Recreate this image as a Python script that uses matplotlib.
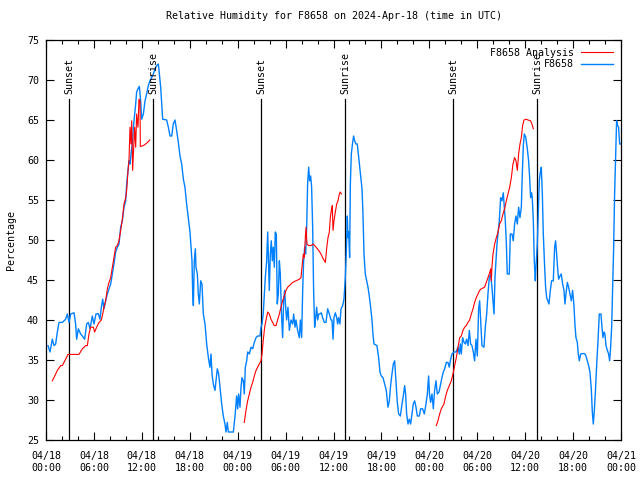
"""Relative humidity for F8658: observations vs analysis, gnuplot-style look."""

import matplotlib

matplotlib.use("Agg")
import matplotlib.pyplot as plt
from matplotlib.ticker import MultipleLocator

plt.rcParams["font.family"] = ["DejaVu Sans Mono"]
plt.rcParams["font.size"] = 7.2

# --- data: hours since 2024-04-18 00:00 UTC ---
obs_h = [0.25, 0.50, 0.79, 1.00, 1.21, 1.42, 1.63, 2.05, 2.46, 2.67, 2.88, 3.09, 3.51, 3.71,
         3.84, 4.05, 4.34, 4.55, 4.84, 5.09, 5.30, 5.51, 5.80, 6.01, 6.26, 6.55, 6.76, 6.93,
         7.10, 7.26, 7.47, 7.68, 7.89, 8.10, 8.31, 8.51, 8.72, 8.93, 9.14, 9.35, 9.56, 9.77,
         9.98, 10.10, 10.27, 10.39, 10.52, 10.69, 10.81, 10.94, 11.10, 11.23, 11.35, 11.52,
         11.69, 11.85, 11.98, 12.19, 12.40, 12.60, 12.81, 13.02, 13.44, 13.65, 13.94, 14.07,
         14.19, 14.36, 14.48, 14.61, 15.11, 15.32, 15.53, 15.74, 15.94, 16.15, 16.36, 16.57,
         16.78, 16.99, 17.20, 17.40, 17.61, 17.82, 18.03, 18.16, 18.28, 18.36, 18.45, 18.57,
         18.70, 18.78, 18.95, 19.07, 19.20, 19.37, 19.53, 19.70, 19.91, 20.12, 20.33, 20.53,
         20.66, 20.79, 20.95, 21.16, 21.29, 21.45, 21.62, 21.79, 22.00, 22.20, 22.41, 22.54,
         22.70, 22.83, 23.04, 23.46, 23.67, 23.87, 24.00, 24.12, 24.29, 24.42, 24.54, 24.71,
         24.83, 24.96, 25.13, 25.25, 25.46, 25.67, 25.88, 26.08, 26.30, 26.50, 26.80, 26.92,
         27.05, 27.20, 27.34, 27.46, 27.63, 27.76, 27.88, 27.96, 28.09, 28.21, 28.34, 28.46,
         28.59, 28.71, 28.84, 28.96, 29.09, 29.22, 29.34, 29.47, 29.63, 29.76, 29.88, 30.01,
         30.13, 30.30, 30.47, 30.68, 30.89, 31.01, 31.18, 31.30, 31.51, 31.72, 31.85, 32.01,
         32.14, 32.26, 32.39, 32.51, 32.64, 32.76, 32.89, 33.01, 33.14, 33.26, 33.39, 33.51,
         33.64, 33.77, 33.89, 34.02, 34.14, 34.31, 34.48, 34.64, 34.85, 35.06, 35.27, 35.48,
         35.69, 35.81, 35.94, 36.06, 36.23, 36.40, 36.52, 36.64, 36.81, 36.94, 37.15, 37.31,
         37.48, 37.60, 37.73, 37.81, 37.90, 38.02, 38.11, 38.23, 38.40, 38.52, 38.65, 38.81,
         38.98, 39.11, 39.27, 39.44, 39.57, 39.69, 39.82, 39.98, 40.15, 40.32, 40.48, 40.65,
         40.82, 40.94, 41.07, 41.44, 41.65, 41.82, 41.99, 42.20, 42.40, 42.61, 42.82, 42.99,
         43.15, 43.32, 43.49, 43.66, 43.82, 43.99, 44.16, 44.37, 44.58, 44.74, 44.91, 45.03,
         45.16, 45.33, 45.49, 45.66, 45.83, 45.99, 46.16, 46.33, 46.50, 46.75, 46.91, 47.16,
         47.37, 47.58, 47.75, 47.91, 48.02, 48.16, 48.33, 48.50, 48.66, 48.83, 49.00, 49.21,
         49.42, 49.58, 49.75, 49.92, 50.13, 50.33, 50.50, 50.67, 50.84, 51.09, 51.34, 51.59,
         51.75, 51.88, 52.00, 52.17, 52.34, 52.50, 52.67, 52.84, 53.01, 53.17, 53.34, 53.51,
         53.67, 53.84, 54.01, 54.17, 54.30, 54.42, 54.59, 54.84, 55.01, 55.18, 55.34, 55.51,
         55.68, 55.84, 55.97, 56.10, 56.22, 56.35, 56.47, 56.60, 56.76, 56.93, 57.10, 57.26,
         57.39, 57.51, 57.64, 57.76, 58.01, 58.14, 58.35, 58.51, 58.68, 58.85, 59.02, 59.18,
         59.35, 59.52, 59.64, 59.77, 59.89, 60.06, 60.27, 60.43, 60.56, 60.68, 60.81, 60.89,
         61.02, 61.14, 61.27, 61.35, 61.52, 61.64, 61.77, 61.90, 62.02, 62.15, 62.27, 62.44,
         62.56, 62.69, 62.98, 63.15, 63.31, 63.52, 63.69, 63.81, 63.94, 64.07, 64.19, 64.36,
         64.52, 64.69, 64.86, 64.98, 65.11, 65.28, 65.44, 65.61, 65.78, 65.94, 66.11, 66.24,
         66.36, 66.53, 66.65, 66.78, 66.95, 67.15, 67.45, 67.61, 67.78, 67.95, 68.11, 68.28,
         68.41, 68.53, 68.66, 68.78, 68.95, 69.12, 69.28, 69.49, 69.62, 69.74, 69.87, 69.99,
         70.12, 70.29, 70.45, 70.58, 70.70, 70.83, 70.95, 71.08, 71.20, 71.33, 71.45, 71.58,
         71.70, 71.83, 72.00]
obs_rh = [36.8, 36.0, 37.6, 36.8, 37.0, 38.5, 39.7, 39.7, 40.1, 40.75, 39.7, 40.75, 40.9, 39.5,
          37.6, 38.9, 38.25, 38.0, 37.6, 39.5, 39.7, 38.9, 40.5, 39.5, 40.75, 40.8, 40.1, 41.6,
          42.6, 41.4, 42.4, 43.25, 43.9, 44.5, 45.75, 47.0, 48.5, 49.1, 49.5, 51.6, 52.4, 54.1,
          54.9, 57.0, 58.7, 59.9, 59.5, 61.2, 62.0, 64.1, 65.75, 67.0, 68.5, 68.9,
          69.2, 67.4, 65.1, 65.75, 67.4, 68.25, 69.3, 69.9, 70.75, 71.4, 71.9, 72.0,
          70.75, 69.1, 67.2, 65.1, 65.0, 64.1, 63.0, 63.0, 64.5, 65.0, 63.7, 62.2,
          60.5, 59.5, 57.6, 56.6, 54.5, 52.8, 51.0, 49.1, 47.4, 43.7, 41.8, 47.4,
          48.9, 46.6, 45.75, 43.25, 42.0, 44.9, 44.5, 40.75, 39.5, 37.0, 35.3, 34.1,
          35.75, 33.25, 32.0, 31.2, 32.4, 33.9, 33.25, 31.6, 29.5, 28.0, 27.0, 26.0,
          27.2, 26.0, 26.0, 26.0, 28.0, 30.5, 28.9, 30.75, 29.1, 31.6, 32.8, 32.4,
          30.75, 34.1, 34.9, 36.0, 35.75, 36.6, 36.4, 37.2, 37.8, 38.0, 38.0, 39.1,
          39.5, 40.75, 43.25, 45.3, 47.4, 51.0, 46.6, 43.7, 48.25, 49.9, 47.4, 49.1,
          46.6, 51.0, 50.75, 42.0, 43.25, 47.4, 45.75, 41.2, 37.8, 42.4, 43.7, 41.6,
          40.0, 41.6, 38.7, 40.0, 39.5, 40.75, 39.1, 40.0, 38.7, 37.8, 40.0, 37.8,
          43.7, 47.4, 49.1, 48.25, 51.6, 57.0, 59.1, 57.4, 58.0, 56.6, 51.6, 43.7,
          39.1, 40.3, 41.6, 40.0, 40.75, 40.75, 40.9, 40.3, 39.7, 39.7, 41.4, 40.75,
          40.0, 40.0, 37.6, 40.3, 40.9, 40.3, 39.5, 40.3, 39.5, 41.4, 41.8, 42.6,
          45.3, 48.25, 53.0, 50.3, 51.0, 47.8, 57.0, 60.75, 62.2, 63.0, 62.4, 62.0,
          62.0, 60.75, 59.1, 57.6, 56.4, 53.25, 48.25, 45.75, 44.9, 44.1, 43.0, 41.6,
          40.0, 38.25, 37.0, 36.8, 35.3, 33.5, 33.0, 32.8, 32.0, 31.2, 29.1, 29.9,
          31.8, 33.25, 34.5, 34.9, 32.4, 29.7, 28.25, 28.0, 29.5, 30.5, 31.8, 30.75,
          28.25, 27.0, 27.6, 27.0, 28.25, 29.5, 29.9, 29.1, 28.0, 28.0, 28.9, 28.9,
          28.25, 29.5, 30.75, 33.0, 30.75, 29.7, 30.75, 28.9, 31.2, 32.4, 30.75, 31.0,
          32.0, 32.8, 33.5, 33.9, 34.7, 34.7, 34.1, 35.1, 35.75, 36.0, 36.0, 36.6,
          35.75, 37.0, 35.75, 37.8, 37.2, 37.0, 37.6, 36.8, 38.7, 37.0, 36.8, 36.0,
          34.9, 37.6, 35.5, 41.4, 42.4, 40.0, 36.8, 36.6, 39.1, 40.75, 43.25, 45.3,
          45.75, 44.1, 42.4, 40.75, 45.3, 47.4, 49.5, 50.75, 52.4, 55.3, 54.9, 55.9,
          54.1, 52.4, 49.7, 45.75, 45.75, 50.75, 50.75, 49.9, 52.0, 53.0, 52.0, 54.1,
          52.8, 54.1, 58.25, 61.8, 63.25, 62.9, 61.4, 59.9, 57.8, 55.3, 55.9, 55.3,
          52.4, 47.4, 44.9, 46.6, 49.5, 53.25, 57.4, 58.5, 59.1, 55.75, 50.75, 46.6,
          44.1, 42.8, 42.0, 43.7, 44.9, 44.9, 49.1, 49.9, 48.25, 46.4, 45.1, 45.5,
          45.75, 44.5, 43.7, 42.0, 43.25, 44.7, 44.1, 43.25, 42.4, 43.7, 41.8, 39.3,
          37.8, 37.2, 35.75, 34.9, 35.75, 35.8, 35.8, 35.5, 34.9, 34.3, 33.5, 31.4,
          28.5, 27.0, 28.7, 30.75, 34.3, 37.4, 40.75, 40.75, 39.1, 37.8, 38.5, 38.25,
          36.8, 36.2, 35.75, 34.9, 36.6, 39.1, 43.7, 49.1, 55.75, 60.5, 64.9, 64.3,
          64.1, 62.0, 62.0]

# analysis runs, one per day (gaps between them)
ana_day1_h = [0.79, 1.00, 1.42, 1.84, 2.05, 2.46, 2.75, 4.13, 4.55, 4.97, 5.18, 5.38, 5.59,
              5.93, 6.09, 6.34, 6.64, 6.93, 7.10, 7.26, 7.47, 7.68, 7.89, 8.10, 8.31, 8.51,
              8.72, 8.93, 9.14, 9.35, 9.56, 9.77, 9.98, 10.10, 10.27, 10.39, 10.52, 10.64,
              10.73, 10.85, 10.98, 11.10, 11.23, 11.35, 11.52, 11.64, 11.77, 11.81, 12.19,
              12.60, 13.00]
ana_day1_rh = [32.4, 32.8, 33.7, 34.3, 34.3, 35.1, 35.7, 35.7, 36.4, 36.8, 36.8, 38.25, 39.1,
               39.1, 38.5, 39.1, 39.7, 40.0, 40.75, 41.6, 42.4, 43.9, 44.7, 45.3, 46.6, 47.8,
               49.1, 49.3, 49.9, 51.2, 52.6, 54.5, 55.3, 56.2, 58.7, 59.9, 64.1, 62.0,
               64.9, 58.7, 61.6, 64.1, 61.6, 65.75, 64.1, 67.6, 67.4, 61.7, 61.8,
               62.1, 62.5]
ana_day2_h = [24.83, 25.04, 25.25, 25.46, 25.67, 25.88, 26.08, 26.30, 26.50, 26.71, 26.92,
              27.05, 27.20, 27.38, 27.55, 27.76, 27.96, 28.17, 28.38, 28.59, 28.80, 29.00,
              29.22, 29.42, 29.63, 29.84, 30.05, 30.26, 30.47, 30.68, 30.89, 31.30, 31.72,
              31.93, 32.05, 32.22, 32.35, 32.47, 32.56, 32.68, 32.89, 33.18, 33.47, 33.81,
              34.14, 34.43, 34.64, 34.85, 34.98, 35.14, 35.31, 35.48, 35.60, 35.73, 35.85,
              35.94, 36.06, 36.23, 36.40, 36.56, 36.73, 36.85, 36.98]
ana_day2_rh = [27.2, 28.7, 29.9, 30.75, 31.6, 32.2, 33.0, 33.7, 34.1, 34.5, 34.9,
               35.75, 37.4, 39.1, 40.0, 41.0, 40.75, 40.1, 39.7, 39.3, 39.3, 40.0,
               40.75, 41.6, 42.4, 43.0, 43.7, 44.1, 44.3, 44.5, 44.7, 44.9, 45.1,
               45.3, 46.6, 48.25, 47.8, 50.3, 51.6, 49.5, 49.3, 49.3, 49.5, 49.1,
               48.7, 48.25, 47.8, 47.4, 47.2, 48.9, 50.3, 51.0, 52.8, 53.7, 54.3,
               51.2, 52.4, 53.5, 54.5, 54.9, 55.75, 56.0, 55.75]
ana_day3_h = [48.87, 49.08, 49.29, 49.50, 49.83, 50.00, 50.25, 50.50, 50.75, 50.96, 51.17,
              51.38, 51.59, 51.80, 52.00, 52.21, 52.42, 52.63, 52.84, 53.05, 53.26, 53.47,
              53.67, 53.88, 54.09, 54.30, 54.50, 54.92, 55.13, 55.34, 55.55, 55.68, 55.76,
              55.84, 55.97, 56.18, 56.39, 56.60, 56.80, 57.01, 57.22, 57.43, 57.64, 57.85,
              58.06, 58.27, 58.47, 58.68, 58.85, 59.02, 59.18, 59.35, 59.52, 59.68, 59.85,
              60.14, 60.35, 60.68, 60.85, 61.02]
ana_day3_rh = [26.8, 27.4, 28.25, 28.9, 29.5, 30.3, 31.2, 31.8, 32.4, 33.25, 34.3,
               35.3, 36.6, 37.8, 38.0, 38.7, 39.1, 39.3, 39.7, 40.0, 40.75, 41.4,
               42.2, 42.8, 43.25, 43.7, 43.9, 44.1, 44.7, 45.3, 45.9, 46.4, 44.9,
               46.6, 48.25, 49.5, 50.3, 51.0, 52.0, 52.4, 53.25, 53.9, 54.9, 55.75,
               56.6, 57.8, 59.5, 60.3, 59.9, 58.7, 60.75, 62.0, 62.8, 64.3, 65.0,
               65.1, 65.0, 64.9, 64.5, 63.9]

sun_h = [2.88, 13.40, 26.92, 37.44, 50.96, 61.48]
sun_lbl = ["Sunset", "Sunrise", "Sunset", "Sunrise", "Sunset", "Sunrise"]

tick_h = list(range(0, 73, 6))
tick_lbl = ["04/18\n00:00", "04/18\n06:00", "04/18\n12:00", "04/18\n18:00",
            "04/19\n00:00", "04/19\n06:00", "04/19\n12:00", "04/19\n18:00",
            "04/20\n00:00", "04/20\n06:00", "04/20\n12:00", "04/20\n18:00",
            "04/21\n00:00"]

RED = "#ff0000"
BLUE = "#0080ff"

fig = plt.figure(figsize=(6.4, 4.8), dpi=100)
ax = fig.add_axes([46 / 640, 40 / 480, 575 / 640, 400 / 480])

# sunrise / sunset markers
for h, lab in zip(sun_h, sun_lbl):
    ax.plot([h, h], [25, 67.6], color="black", lw=0.9, zorder=1)
    ax.text(h, 68.2, lab, rotation=90, ha="center", va="bottom", fontsize=7.2)

ax.plot(ana_day1_h, ana_day1_rh, color=RED, lw=0.8, label="F8658 Analysis", zorder=3)
ax.plot(ana_day2_h, ana_day2_rh, color=RED, lw=0.8, zorder=3)
ax.plot(ana_day3_h, ana_day3_rh, color=RED, lw=0.8, zorder=3)
ax.plot(obs_h, obs_rh, color=BLUE, lw=1.0, label="F8658", zorder=2)

ax.set_xlim(0, 72)
ax.set_ylim(25, 75)
ax.set_xticks(tick_h)
ax.set_xticklabels(tick_lbl)
ax.xaxis.set_minor_locator(MultipleLocator(2))
ax.yaxis.set_major_locator(MultipleLocator(5))
ax.tick_params(which="both", direction="in", top=True, right=True, width=0.8)
ax.tick_params(which="major", length=6)
ax.tick_params(which="minor", length=3)
ax.tick_params(axis="x", which="major", pad=8)
ax.tick_params(axis="y", which="major", pad=5)
for sp in ax.spines.values():
    sp.set_linewidth(0.9)

ax.set_ylabel("Percentage", labelpad=8)
ax.set_title("Relative Humidity for F8658 on 2024-Apr-18 (time in UTC)", pad=15,
             fontsize=7.2)

leg = ax.legend(loc="upper right", bbox_to_anchor=(1.0, 1.0), frameon=False,
                markerfirst=False, handlelength=3.2, handletextpad=0.7,
                labelspacing=0.15, borderaxespad=0.4)
for t in leg.get_texts():
    t.set_ha("right")

fig.savefig("out.png", dpi=100)
